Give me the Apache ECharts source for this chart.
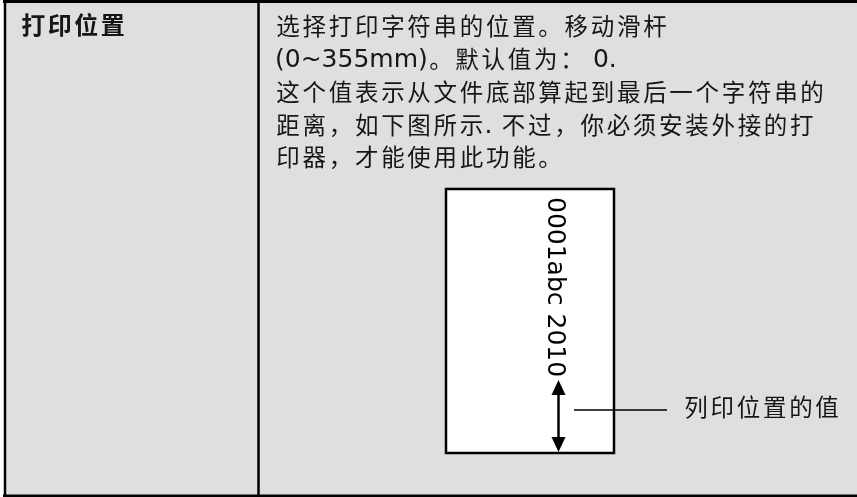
<!DOCTYPE html>
<html>
<head>
<meta charset="utf-8">
<script src="https://cdn.jsdelivr.net/npm/echarts@6.0.0/dist/echarts.min.js"></script>
<style>
  html, body { margin: 0; padding: 0; background: #ffffff; }
  #main { width: 857px; height: 497px; }
</style>
</head>
<body>
<div id="main"></div>
<script>
// ---- content (text of the reference figure) ----
var headerText = '打印位置';
var bodyLines = [
  '选择打印字符串的位置。移动滑杆',
  '(0~355mm)。默认值为： 0.',
  '这个值表示从文件底部算起到最后一个字符串的',
  '距离，如下图所示. 不过，你必须安装外接的打',
  '印器，才能使用此功能。'
];
var sampleString = '0001abc 2010';
var calloutLabel = '列印位置的值';

// ---- layout / style ----
var CJK_FAMILY = 'Noto Sans CJK SC';
var LAT_FAMILY = 'DejaVu Sans';
var TEXT_COLOR = '#161616';
var CJK_SIZE = 23.5;
var CJK_ADV = 26.2;
var LAT_SIZE = 25;
var BODY_X = 275;
var LINE_Y = [26, 59.5, 92, 125, 157];

var measureCtx = document.createElement('canvas').getContext('2d');
function latinWidth(s, size, weight) {
  measureCtx.font = (weight || 'normal') + ' ' + size + 'px "' + LAT_FAMILY + '"';
  return measureCtx.measureText(s).width;
}
function isWide(ch) {
  return ch.charCodeAt(0) >= 0x2E80;
}
// lay out one line: CJK chars on a fixed advance grid, Latin runs measured
function layoutLine(str, x0, yc, opts) {
  opts = opts || {};
  var cjkSize = opts.cjkSize || CJK_SIZE;
  var adv = opts.adv || CJK_ADV;
  var weight = opts.weight || 'normal';
  var out = [];
  var x = x0;
  var i = 0;
  while (i < str.length) {
    var ch = str[i];
    if (isWide(ch)) {
      out.push({
        type: 'text', silent: true,
        style: {
          x: x + adv / 2, y: yc, text: ch,
          fontFamily: CJK_FAMILY, fontSize: cjkSize, fontWeight: weight,
          fill: TEXT_COLOR, align: 'center', verticalAlign: 'middle'
        }
      });
      x += adv;
      i++;
    } else {
      var j = i;
      while (j < str.length && !isWide(str[j])) j++;
      var run = str.slice(i, j);
      out.push({
        type: 'text', silent: true,
        style: {
          x: x, y: yc + 1, text: run,
          fontFamily: LAT_FAMILY, fontSize: LAT_SIZE, fontWeight: weight,
          fill: TEXT_COLOR, align: 'left', verticalAlign: 'middle'
        }
      });
      x += latinWidth(run, LAT_SIZE, weight);
      i = j;
    }
  }
  return out;
}

var elements = [];
// table cell background
elements.push({ type: 'rect', silent: true, shape: { x: 5, y: 0, width: 852, height: 497 },
  style: { fill: '#dfdfdf' } });
// borders
elements.push({ type: 'line', silent: true, shape: { x1: 3, y1: 1.5, x2: 857, y2: 1.5 },
  style: { stroke: '#000', lineWidth: 3 } });
elements.push({ type: 'line', silent: true, shape: { x1: 5, y1: 0, x2: 5, y2: 497 },
  style: { stroke: '#000', lineWidth: 2.5 } });
elements.push({ type: 'line', silent: true, shape: { x1: 258.5, y1: 0, x2: 258.5, y2: 497 },
  style: { stroke: '#000', lineWidth: 2.5 } });
elements.push({ type: 'line', silent: true, shape: { x1: 3, y1: 495.8, x2: 857, y2: 495.8 },
  style: { stroke: '#000', lineWidth: 2.5 } });

// header
elements = elements.concat(layoutLine(headerText, 20, 25, { cjkSize: 24, adv: 26.5, weight: 'bold' }));
// body
bodyLines.forEach(function (ln, k) {
  elements = elements.concat(layoutLine(ln, BODY_X, LINE_Y[k]));
});

// paper sheet
elements.push({ type: 'rect', silent: true, shape: { x: 446, y: 189, width: 168, height: 264 },
  style: { fill: '#ffffff', stroke: '#000', lineWidth: 2.5 } });
// vertical printed string
elements.push({ type: 'text', silent: true, x: 554, y: 197, rotation: -Math.PI / 2,
  style: { x: 0, y: 0, text: sampleString, fontFamily: LAT_FAMILY, fontSize: 25, fill: '#000',
    align: 'left', verticalAlign: 'middle' } });
// double arrow
elements.push({ type: 'line', silent: true, shape: { x1: 558.5, y1: 392, x2: 558.5, y2: 440 },
  style: { stroke: '#000', lineWidth: 2.5 } });
elements.push({ type: 'polygon', silent: true, shape: { points: [[558.5, 380], [551.5, 395], [565.5, 395]] },
  style: { fill: '#000' } });
elements.push({ type: 'polygon', silent: true, shape: { points: [[558.5, 452], [551.5, 437], [565.5, 437]] },
  style: { fill: '#000' } });
// leader line
elements.push({ type: 'line', silent: true, shape: { x1: 574, y1: 410, x2: 667, y2: 410 },
  style: { stroke: '#000', lineWidth: 1.5 } });
// callout label
elements = elements.concat(layoutLine(calloutLabel, 683, 407));

var chart = echarts.init(document.getElementById('main'), null, { renderer: 'canvas' });
chart.setOption({
  backgroundColor: '#ffffff',
  animation: false,
  graphic: { elements: elements }
});
</script>
</body>
</html>
